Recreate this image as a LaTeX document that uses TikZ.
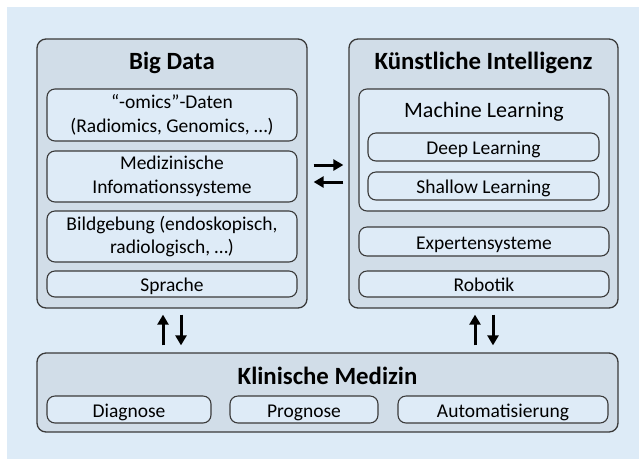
\documentclass[tikz,border=0pt]{standalone}
\usepackage{fontspec}
\setmainfont{Carlito}
\usetikzlibrary{arrows.meta}
\definecolor{bgblue}{RGB}{221,235,247}
\definecolor{outerfill}{RGB}{209,221,232}
\definecolor{innerfill}{RGB}{222,235,247}
\definecolor{edge}{RGB}{58,58,58}
\tikzset{
  outerbox/.style={draw=edge, line width=1.3pt, fill=outerfill, rounded corners=9pt,
    minimum width=#1, inner sep=0pt},
  innerbox/.style={draw=edge, line width=1.1pt, fill=innerfill, rounded corners=8pt,
    align=center, inner sep=0pt, font=\fontsize{19.5}{23.5}\selectfont},
  oneline/.style={innerbox, text height=18pt, text depth=3pt},
  titletext/.style={font=\fontsize{24.8}{28}\selectfont\bfseries, inner sep=0pt},
  bigarrow/.style={line width=3pt, -{Triangle[length=10pt,width=11pt]}, draw=black},
}
\begin{document}
\begin{tikzpicture}[x=1pt,y=-1pt]
\useasboundingbox (0,0) rectangle (639,459);
\fill[white] (0,0) rectangle (639,459);
\fill[bgblue] (7,7) rectangle (639,459);

% Big Data column
\node[outerbox=270pt, minimum height=269pt] (bd) at (172,173.5) {};
\node[titletext] (bdt) at (172,63) {Big Data};
\node[innerbox, minimum width=250pt, minimum height=52pt] (omics) at (172,115)
  {“-omics”-Daten\\(Radiomics, Genomics, …)};
\node[innerbox, minimum width=250pt, minimum height=51pt] (mis) at (172,176.5)
  {Medizinische\\Infomationssysteme};
\node[innerbox, minimum width=250pt, minimum height=51pt] (bild) at (172,236.5)
  {Bildgebung (endoskopisch,\\radiologisch, …)};
\node[oneline, minimum width=250pt, minimum height=26pt] (sprache) at (172,284)
  {Sprache};

% Künstliche Intelligenz column
\node[outerbox=269pt, minimum height=269pt] (ki) at (483.5,173.5) {};
\node[titletext] (kit) at (483.5,63) {Künstliche Intelligenz};
\node[innerbox, minimum width=250pt, minimum height=122pt] (ml) at (484,150) {};
\node[inner sep=0pt, font=\fontsize{22}{26}\selectfont] (mlt) at (484,112) {Machine Learning};
\node[oneline, minimum width=231pt, minimum height=28pt] (deep) at (483.5,147)
  {Deep Learning};
\node[oneline, minimum width=231pt, minimum height=28pt] (shallow) at (483.5,186)
  {Shallow Learning};
\node[oneline, minimum width=250pt, minimum height=29pt] (expert) at (484,241.5)
  {Expertensysteme};
\node[oneline, minimum width=250pt, minimum height=26pt] (robo) at (484,284)
  {Robotik};

% Klinische Medizin row
\node[outerbox=581pt, minimum height=79pt] (km) at (327.5,392.5) {};
\node[titletext] (kmt) at (327.5,376) {Klinische Medizin};
\node[oneline, minimum width=164pt, minimum height=27pt] (diag) at (129,409.5) {Diagnose};
\node[oneline, minimum width=148pt, minimum height=27pt] (prog) at (304,409.5) {Prognose};
\node[oneline, minimum width=210pt, minimum height=27pt] (auto) at (503,409.5) {Automatisierung};

% exchange arrows between the two columns
\draw[bigarrow, shorten <=6pt, shorten >=5pt]
  ([yshift=8.5pt]bd.east) -- ([yshift=8.5pt]bd.east -| ki.west);
\draw[bigarrow, shorten <=5pt, shorten >=6pt]
  ([yshift=-8.5pt]ki.west) -- ([yshift=-8.5pt]ki.west -| bd.east);

% arrows between the columns and clinical medicine
\draw[bigarrow, shorten <=7pt, shorten >=6pt]
  ([xshift=-9pt]bd.south |- km.north) -- ([xshift=-9pt]bd.south);
\draw[bigarrow, shorten <=6pt, shorten >=7pt]
  ([xshift=9pt]bd.south) -- ([xshift=9pt]bd.south |- km.north);
\draw[bigarrow, shorten <=7pt, shorten >=6pt]
  ([xshift=-8.5pt]ki.south |- km.north) -- ([xshift=-8.5pt]ki.south);
\draw[bigarrow, shorten <=6pt, shorten >=7pt]
  ([xshift=9.5pt]ki.south) -- ([xshift=9.5pt]ki.south |- km.north);
\end{tikzpicture}
\end{document}
